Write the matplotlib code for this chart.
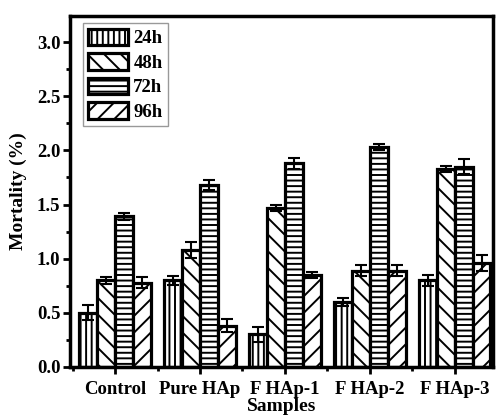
import matplotlib.pyplot as plt
import numpy as np
from matplotlib.ticker import MultipleLocator

plt.rcParams['font.family'] = ['Liberation Serif', 'DejaVu Serif']
plt.rcParams['font.weight'] = 'bold'
plt.rcParams['hatch.linewidth'] = 1.4

samples = ['Control', 'Pure HAp', 'F HAp-1', 'F HAp-2', 'F HAp-3']
series = ['24h', '48h', '72h', '96h']
h24 = [0.50, 0.80, 0.30, 0.60, 0.80]
h48 = [0.80, 1.08, 1.47, 0.89, 1.83]
h72 = [1.39, 1.68, 1.88, 2.03, 1.85]
h96 = [0.78, 0.38, 0.85, 0.89, 0.96]
e24 = [0.07, 0.04, 0.07, 0.04, 0.05]
e48 = [0.03, 0.07, 0.03, 0.05, 0.03]
e72 = [0.03, 0.05, 0.05, 0.03, 0.07]
e96 = [0.05, 0.06, 0.03, 0.05, 0.07]
hatches = ['|||', '\\\\', '---', '//']

fig = plt.figure(figsize=(4.98, 4.16), dpi=100)
ax = fig.add_axes([0.1406, 0.1178, 0.8494, 0.8437])

x = np.arange(len(samples))
w = 0.21
vals = [h24, h48, h72, h96]
errs = [e24, e48, e72, e96]
for i in range(4):
    ax.bar(x + (i - 1.5) * w, vals[i], w, yerr=errs[i], color='white',
           edgecolor='black', linewidth=2.3, hatch=hatches[i], label=series[i],
           error_kw=dict(ecolor='black', elinewidth=1.5, capsize=4, capthick=1.5))

ax.set_xlim(-0.53, 4.45)
ax.set_ylim(0, 3.24)
ax.set_xticks(x)
ax.set_xticklabels(samples)
ax.xaxis.set_minor_locator(MultipleLocator(1, offset=0.5))
ax.yaxis.set_major_locator(MultipleLocator(0.5))
ax.yaxis.set_minor_locator(MultipleLocator(0.25))
ax.yaxis.set_major_formatter(plt.FormatStrFormatter('%.1f'))
ax.tick_params(which='major', direction='out', length=5, width=2, labelsize=13.5)
ax.tick_params(which='minor', direction='out', length=3, width=2)
ax.tick_params(axis='x', pad=5)
ax.tick_params(axis='y', pad=2)
for s in ax.spines.values():
    s.set_linewidth(2.5)

ax.set_ylabel('Mortality (%)', fontsize=14, fontweight='bold', labelpad=7)
ax.set_xlabel('Samples', fontsize=14, fontweight='bold', labelpad=0)

leg = ax.legend(loc='upper left', fontsize=13.5, handlelength=2.1, handleheight=1.0,
                handletextpad=0.3, labelspacing=0.3, borderpad=0.3, borderaxespad=0,
                fancybox=False, framealpha=1, bbox_to_anchor=(0.03, 0.98))
leg.get_frame().set_edgecolor('#999999')
leg.get_frame().set_linewidth(1)

fig.savefig('out.png', dpi=100)
